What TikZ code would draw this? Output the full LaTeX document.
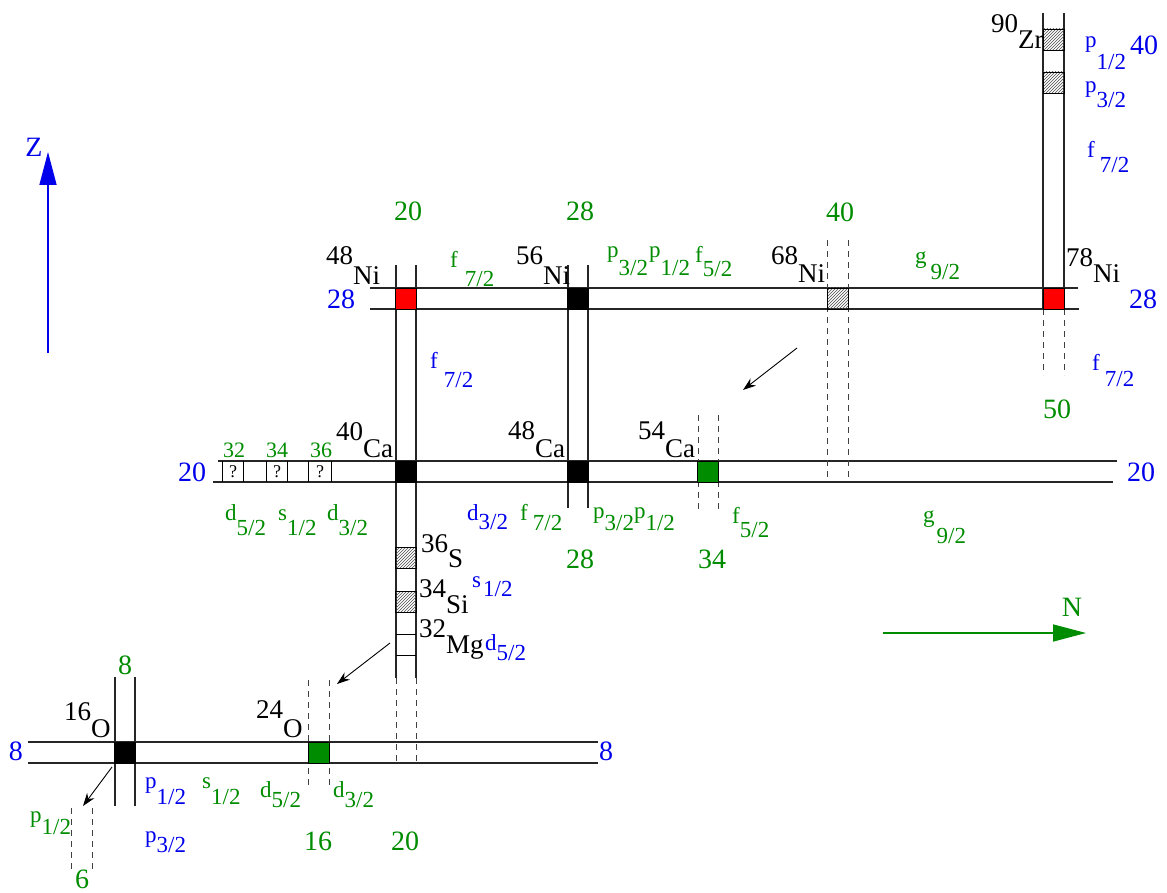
\documentclass[tikz,border=0pt]{standalone}
\usepackage{fontspec}
\setmainfont{Liberation Serif}
\usetikzlibrary{arrows.meta,patterns}
\definecolor{fgreen}{RGB}{0,140,0}
\definecolor{fblue}{RGB}{0,0,235}
\newcommand\nuc[3][17pt]{\raisebox{#1}{#2}#3}
\newcommand\orb[4][0pt]{#3\hspace{#1}\raisebox{-#2}{#4}}
\tikzset{
 gline/.style={line width=1.2pt, draw=black!85},
 dashline/.style={line width=0.9pt, draw=black!75, dash pattern=on 6pt off 5pt},
 sq/.style={draw=black, line width=0.8pt, minimum width=21pt, minimum height=21pt, inner sep=0pt},
 hatch/.style={sq, pattern=north east lines, pattern color=black!70},
 bignum/.style={font=\fontsize{28}{30}\selectfont, inner sep=0pt},
 gnum/.style={bignum, text=fgreen},
 bnum/.style={bignum, text=fblue},
 smallnum/.style={font=\fontsize{22}{24}\selectfont, inner sep=0pt, text=fgreen},
 qmark/.style={font=\fontsize{18}{20}\selectfont, inner sep=0pt},
 nucl/.style={font=\fontsize{27}{29}\selectfont, inner sep=0pt, anchor=base west},
 gorb/.style={font=\fontsize{23}{25}\selectfont, inner sep=0pt, anchor=base west, text=fgreen},
 borb/.style={gorb, text=fblue},
 ptr/.style={line width=0.9pt, -{Stealth[length=13pt,width=9pt]}},
}
\begin{document}
\begin{tikzpicture}[x=1pt,y=-1pt]
\useasboundingbox (0,0) rectangle (1167,893);
% horizontal lines
\draw[gline] (370,288) -- (1078,288);
\draw[gline] (370,309) -- (1079,309);
\draw[gline] (218,461) -- (1117,461);
\draw[gline] (213,482) -- (1113,482);
\draw[gline] (28,742) -- (598,742);
\draw[gline] (28,763) -- (598,763);
% vertical lines
\draw[gline] (396,265) -- (396,678);
\draw[gline] (416,265) -- (416,678);
\draw[dashline] (396,678) -- (396,762);
\draw[dashline] (416,678) -- (416,762);
\draw[gline] (568,265) -- (568,508);
\draw[gline] (588,265) -- (588,508);
\draw[dashline] (827,240) -- (827,482);
\draw[dashline] (848,240) -- (848,482);
\draw[gline] (1043,13) -- (1043,309);
\draw[gline] (1064,13) -- (1064,309);
\draw[dashline] (1043,309) -- (1043,375);
\draw[dashline] (1064,309) -- (1064,375);
\draw[dashline] (698,415) -- (698,513);
\draw[dashline] (718,415) -- (718,513);
\draw[gline] (115,677) -- (115,806);
\draw[gline] (135,677) -- (135,806);
\draw[dashline] (308,680) -- (308,787);
\draw[dashline] (329,680) -- (329,787);
\draw[dashline] (71,808) -- (71,870);
\draw[dashline] (92,808) -- (92,870);
% question boxes
\foreach \xx in {222,243,266,287,308,331} \draw[line width=0.8pt] (\xx,461) -- (\xx,482);
\node[qmark] (q1) at (233,472) {?};
\node[qmark] (q2) at (277,472) {?};
\node[qmark] (q3) at (320,472) {?};
% Mg ticks
\draw[line width=0.8pt] (396,634) -- (416,634);
\draw[line width=0.8pt] (396,655) -- (416,655);
% squares
\node[sq, fill=red] (sqni48) at (406,298.5) {};
\node[sq, fill=black] (sqni56) at (578,298.5) {};
\node[hatch] (sqni68) at (837.5,298.5) {};
\node[sq, fill=red] (sqni78) at (1053.5,298.5) {};
\node[hatch] (sqzr1) at (1053.5,39.5) {};
\node[hatch] (sqzr2) at (1053.5,82.5) {};
\node[sq, fill=black] (sqca40) at (406,471.5) {};
\node[sq, fill=black] (sqca48) at (578,471.5) {};
\node[sq, fill=fgreen] (sqca54) at (708,471.5) {};
\node[hatch] (sqs36) at (406,558) {};
\node[hatch] (sqsi34) at (406,601.5) {};
\node[sq, fill=black] (sqo16) at (125,752.5) {};
\node[sq, fill=fgreen] (sqo24) at (318.5,752.5) {};
% green magic numbers
\node[gnum] (g20a) at (408,211) {20};
\node[gnum] (g28a) at (580,211) {28};
\node[gnum] (g40) at (840,212) {40};
\node[gnum] (g50) at (1057,409) {50};
\node[gnum] (g28b) at (580,559) {28};
\node[gnum] (g34) at (712,559) {34};
\node[gnum] (g8) at (125,665) {8};
\node[gnum] (g16) at (318,841) {16};
\node[gnum] (g20b) at (405,841) {20};
\node[gnum] (g6) at (82,879) {6};
\node[smallnum] (s32) at (234,450) {32};
\node[smallnum] (s34) at (277,450) {34};
\node[smallnum] (s36) at (321,450) {36};
% blue proton numbers
\node[bnum] (b28a) at (341,299) {28};
\node[bnum] (b28b) at (1143,299) {28};
\node[bnum] (b40) at (1144,45) {40};
\node[bnum] (b20a) at (192,472) {20};
\node[bnum] (b20b) at (1141,472) {20};
\node[bnum] (b8a) at (16,751) {8};
\node[bnum] (b8b) at (606,751) {8};
% nuclides
\node[nucl] (ni48) at (326,284) {\nuc[20pt]{48}{Ni}};
\node[nucl] (ni56) at (516,284) {\nuc[20pt]{56}{Ni}};
\node[nucl] (ni68) at (771,283) {\nuc[18pt]{68}{Ni}};
\node[nucl] (ni78) at (1066,283) {\nuc[16pt]{78}{Ni}};
\node[nucl] (zr90) at (991,49) {\nuc[16pt]{90}{Zr}};
\node[nucl] (ca40) at (336,457) {\nuc{40}{Ca}};
\node[nucl] (ca48) at (508,457) {\nuc[18pt]{48}{Ca}};
\node[nucl] (ca54) at (638,457) {\nuc[18pt]{54}{Ca}};
\node[nucl] (s36n) at (421,567) {\nuc[15pt]{36}{S}};
\node[nucl] (si34) at (419,613) {\nuc[16pt]{34}{Si}};
\node[nucl] (mg32) at (419,653) {\nuc[16pt]{32}{Mg}};
\node[nucl] (o16) at (64,737) {\nuc{16}{O}};
\node[nucl] (o24) at (256,737) {\nuc[19pt]{24}{O}};
% orbitals: top (Ni line)
\node[gorb] (o1) at (450,268) {\orb[7pt]{19pt}{f}{7/2}};
\node[gorb] (o2) at (607,258) {\orb{18pt}{p}{3/2}};
\node[gorb] (o3) at (649,258) {\orb{18pt}{p}{1/2}};
\node[gorb] (o4) at (695,263) {\orb{14pt}{f}{5/2}};
\node[gorb] (o5) at (915,264) {\orb[4pt]{16pt}{g}{9/2}};
\node[borb] (o6) at (1085,48) {\orb{22pt}{p}{1/2}};
\node[borb] (o7) at (1085,93) {\orb{15pt}{p}{3/2}};
\node[borb] (o8) at (1087,158) {\orb[5pt]{15pt}{f}{7/2}};
\node[borb] (o9) at (1092,370) {\orb[5pt]{17pt}{f}{7/2}};
\node[borb] (o10) at (430,368) {\orb[6pt]{19pt}{f}{7/2}};
% orbitals: Ca line
\node[gorb] (o11) at (225,520) {\orb{15pt}{d}{5/2}};
\node[gorb] (o12) at (278,520) {\orb{15pt}{s}{1/2}};
\node[gorb] (o13) at (327,520) {\orb{15pt}{d}{3/2}};
\node[borb] (o14) at (467,520) {\orb{9pt}{d}{3/2}};
\node[gorb] (o15) at (520,520) {\orb[5pt]{10pt}{f}{7/2}};
\node[gorb] (o16) at (593,518) {\orb{12pt}{p}{3/2}\orb{12pt}{p}{1/2}};
\node[gorb] (o17) at (732,523) {\orb{14pt}{f}{5/2}};
\node[gorb] (o18) at (923,522) {\orb[2pt]{21pt}{g}{9/2}};
% orbitals: S/Si/Mg
\node[borb] (o19) at (472,587) {\orb[2pt]{9pt}{s}{1/2}};
\node[borb] (o20) at (485,650) {\orb{10pt}{d}{5/2}};
% orbitals: O line
\node[borb] (o21) at (145,788) {\orb{16pt}{p}{1/2}};
\node[gorb] (o22) at (202,788) {\orb{16pt}{s}{1/2}};
\node[gorb] (o23) at (260,797) {\orb{10pt}{d}{5/2}};
\node[gorb] (o24) at (333,797) {\orb{10pt}{d}{3/2}};
\node[gorb] (o25) at (30,822) {\orb{12pt}{p}{1/2}};
\node[borb] (o26) at (145,842) {\orb{10pt}{p}{3/2}};
% pointers
\coordinate (a1s) at (797,348); \coordinate (a1e) at (743,390);
\coordinate (a2s) at (390,643); \coordinate (a2e) at (337,684);
\coordinate (a3s) at (112,767); \coordinate (a3e) at (83,806);
\draw[ptr] (a1s) -- (a1e);
\draw[ptr] (a2s) -- (a2e);
\draw[ptr] (a3s) -- (a3e);
% axes
\coordinate (zs) at (48,353); \coordinate (ze) at (48,152);
\draw[fblue, line width=1.5pt, -{Triangle[length=33pt,width=17pt]}] (zs) -- (ze);
\node[bnum] (zlab) at (34,147) {Z};
\coordinate (ns) at (883,633); \coordinate (ne) at (1086,633);
\draw[fgreen, line width=1.5pt, -{Triangle[length=33pt,width=17pt]}] (ns) -- (ne);
\node[gnum] (nlab) at (1072,607) {N};
\end{tikzpicture}
\end{document}
